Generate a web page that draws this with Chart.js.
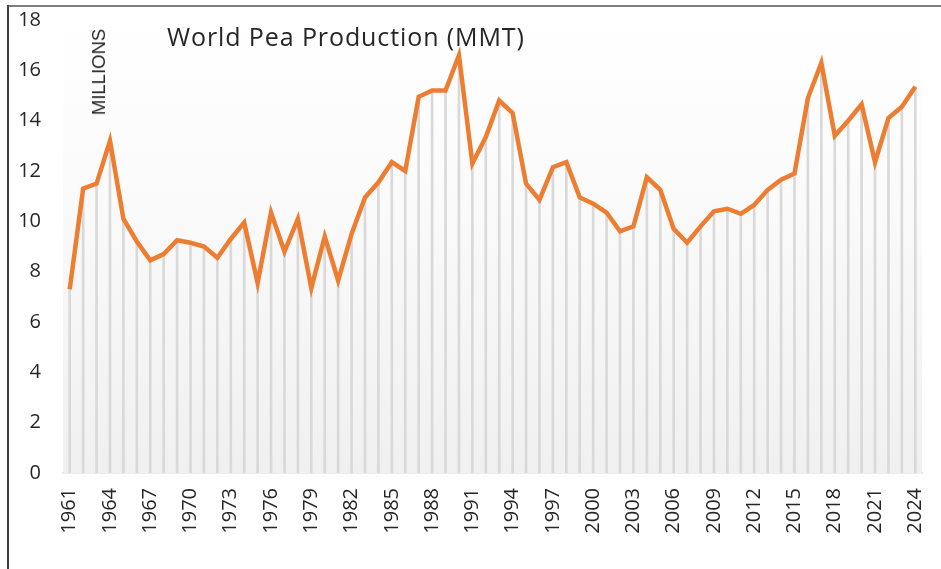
<!DOCTYPE html>
<html>
<head>
<meta charset="utf-8">
<script src="https://cdn.jsdelivr.net/npm/chart.js@4"></script>
<style>
  html, body { margin: 0; padding: 0; background: #ffffff; }
  #wrap { position: relative; width: 941px; height: 569px; overflow: hidden; }
  #frameTop { position: absolute; left: 7px; top: 5px; width: 934px; height: 2px; background: #7f7f7f; }
  #frameLeft { position: absolute; left: 7px; top: 5px; width: 2px; height: 564px; background: #3f3f3f; }
  #title { position: absolute; left: 167px; top: 19px; font-family: "Open Sans", sans-serif; font-size: 25px; color: #262626; white-space: nowrap; letter-spacing: 0.9px; }
  #units { position: absolute; left: 99px; top: 72px; transform: translate(-50%, -50%) rotate(-90deg); font-family: "Liberation Sans", sans-serif; font-size: 18.5px; color: #262626; white-space: nowrap; }
  canvas { position: absolute; left: 0; top: 0; }
</style>
</head>
<body>
<div id="wrap">
  <canvas id="c" width="941" height="569"></canvas>
  <div id="frameTop"></div>
  <div id="frameLeft"></div>
  <div id="title">World Pea Production (MMT)</div>
  <div id="units">MILLIONS</div>
</div>
<script>
const years = [];
for (let y = 1961; y <= 2024; y++) years.push(String(y));

const production = [
  7.3, 11.3, 11.5, 13.2, 10.1, 9.2, 8.45, 8.7, 9.25, 9.15,
  9.0, 8.55, 9.3, 9.95, 7.55, 10.35, 8.8, 10.1, 7.35, 9.4,
  7.65, 9.5, 10.95, 11.55, 12.35, 12.0, 14.95, 15.2, 15.2, 16.6,
  12.3, 13.35, 14.8, 14.3, 11.5, 10.85, 12.15, 12.35, 10.95, 10.7,
  10.35, 9.6, 9.8, 11.75, 11.25, 9.7, 9.15, 9.8, 10.4, 10.5,
  10.3, 10.65, 11.25, 11.65, 11.9, 14.9, 16.3, 13.4, 14.0, 14.65,
  12.35, 14.1, 14.55, 15.35
];

const yTicks = [0, 2, 4, 6, 8, 10, 12, 14, 16, 18];

const plotBg = {
  id: 'plotBg',
  beforeDatasetsDraw(chart) {
    const { ctx, chartArea: a } = chart;
    const g = ctx.createLinearGradient(0, a.bottom, 0, a.top);
    g.addColorStop(0, '#f0f0f0');
    g.addColorStop(0.6, '#fafafa');
    g.addColorStop(1, '#ffffff');
    ctx.save();
    ctx.fillStyle = g;
    ctx.fillRect(a.left, a.top, a.right - a.left, a.bottom - a.top);
    ctx.restore();
  }
};

new Chart(document.getElementById('c'), {
  data: {
    labels: years,
    datasets: [
      {
        type: 'line',
        data: production,
        borderColor: '#ED7D31',
        borderWidth: 4.5,
        pointRadius: 0,
        tension: 0,
        borderJoinStyle: 'miter',
        order: 0
      },
      {
        type: 'bar',
        data: production,
        backgroundColor: '#d9d9d9',
        barThickness: 2,
        order: 1
      }
    ]
  },
  options: {
    responsive: false,
    animation: false,
    layout: { padding: { left: 0, right: 19, top: 20, bottom: 0 } },
    plugins: { legend: { display: false }, tooltip: { enabled: false }, title: { display: false } },
    scales: {
      x: {
        type: 'category',
        offset: true,
        grid: { display: false, drawTicks: false },
        border: { display: true, color: '#d9d9d9', width: 1.5 },
        ticks: {
          autoSkip: false,
          minRotation: 90,
          maxRotation: 90,
          padding: 15,
          color: '#262626',
          font: { family: 'Open Sans', size: 20 },
          callback(v, i) { return i % 3 === 0 ? years[i] : ''; }
        },
        afterFit(s) { s.height = 96; s.paddingLeft = 0; s.paddingRight = 0; }
      },
      y: {
        min: 0,
        max: 18,
        afterBuildTicks(s) { s.ticks = yTicks.map(v => ({ value: v })); },
        grid: { display: false, drawTicks: false },
        border: { display: false },
        ticks: {
          padding: 22,
          color: '#262626',
          font: { family: 'Open Sans', size: 20 }
        },
        afterFit(s) { s.width = 63; s.paddingTop = 0; s.paddingBottom = 0; }
      }
    }
  },
  plugins: [plotBg]
});
</script>
</body>
</html>
